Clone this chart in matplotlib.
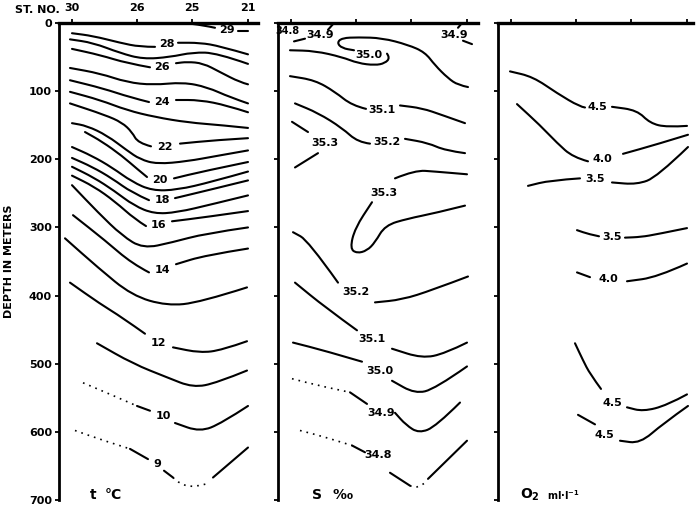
import matplotlib
matplotlib.use("Agg")
import matplotlib.pyplot as plt
from matplotlib.path import Path
from matplotlib.patches import PathPatch

# station positions along the section (distance units), depth in metres
stations = ["30", "26", "25", "21"]
station_x = [0, 65, 120, 176]
depth_ticks = [0, 100, 200, 300, 400, 500, 600, 700]

# each isoline: (label, label position, [(style, [(x, depth), ...]), ...])
temperature = [
    ("29", (155, 11), [("-", [(112, 0), (130, 3), (143, 7)]),
                       ("-", [(166, 12), (176, 12)])]),
    ("28", (95, 31), [("-", [(0, 15), (21, 19), (48, 29), (68, 35), (83, 35)]),
                      ("-", [(106, 29), (128, 29), (148, 34), (176, 46)])]),
    (None, None, [("-", [(-2, 24), (21, 29), (48, 44), (71, 53), (98, 50), (121, 43), (145, 44), (176, 60)])]),
    ("26", (90, 65), [("-", [(0, 38), (28, 47), (55, 59), (78, 65)]),
                      ("-", [(104, 59), (115, 57), (131, 59), (148, 72), (168, 87), (176, 90)])]),
    (None, None, [("-", [(-2, 66), (28, 74), (55, 87), (81, 91), (111, 87), (135, 94), (158, 109), (176, 118)])]),
    ("24", (90, 116), [("-", [(-2, 84), (31, 96), (58, 109), (77, 116)]),
                       ("-", [(104, 113), (128, 113), (155, 121), (176, 131)])]),
    (None, None, [("-", [(-2, 101), (28, 113), (55, 128), (83, 138), (116, 146), (150, 150), (176, 154)])]),
    ("22", (93, 182), [("-", [(-2, 118), (33, 135), (50, 146), (60, 160), (66, 176), (79, 181)]),
                       ("-", [(108, 177), (143, 172), (176, 169)])]),
    (None, None, [("-", [(0, 147), (15, 151), (35, 165), (55, 187), (68, 200), (85, 207), (115, 203), (145, 195), (176, 187)])]),
    ("20", (88, 231), [("-", [(13, 160), (30, 174), (50, 195), (65, 214), (75, 226)]),
                       ("-", [(102, 228), (130, 218), (176, 204)])]),
    (None, None, [("-", [(0, 182), (20, 195), (40, 212), (60, 233), (80, 246), (105, 245), (140, 233), (176, 218)])]),
    ("18", (90, 260), [("-", [(0, 198), (20, 211), (40, 228), (60, 249), (77, 260)]),
                       ("-", [(103, 257), (140, 244), (176, 231)])]),
    (None, None, [("-", [(0, 211), (22, 227), (42, 246), (62, 268), (82, 280), (105, 278), (140, 266), (176, 253)])]),
    ("16", (86, 297), [("-", [(0, 224), (22, 240), (43, 262), (63, 288), (74, 298)]),
                       ("-", [(100, 291), (133, 285), (176, 276)])]),
    (None, None, [("-", [(0, 238), (26, 278), (50, 312), (71, 331), (100, 322), (133, 309), (176, 300)])]),
    ("14", (90, 363), [("-", [(1, 282), (33, 319), (60, 353), (77, 366)]),
                       ("-", [(104, 354), (133, 341), (176, 331)])]),
    (None, None, [("-", [(-7, 316), (26, 359), (60, 400), (95, 415), (128, 410), (175, 388)])]),
    ("12", (86, 469), [("-", [(-2, 381), (28, 412), (50, 432), (73, 456)]),
                       ("-", [(101, 476), (128, 484), (150, 480), (175, 467)])]),
    (None, None, [("-", [(25, 470), (61, 500), (95, 520), (121, 535), (145, 528), (175, 510)])]),
    ("10", (91, 576), [(":", [(11, 528), (40, 546), (65, 562)]),
                       ("-", [(65, 562), (78, 569)]),
                       ("-", [(103, 587), (128, 600), (150, 587), (176, 562)])]),
    ("9", (85, 647), [(":", [(3, 598), (30, 612), (58, 625)]),
                      ("-", [(58, 625), (76, 640)]),
                      ("-", [(92, 657), (101, 667)]),
                      (":", [(101, 667), (108, 676), (121, 682), (138, 675)]),
                      ("-", [(141, 667), (176, 623)])]),
]

salinity = [
    ("34.8", (-4, 12), []),
    ("34.9", (29, 17), [("-", [(3, 27), (14, 23)]),
                        ("-", [(37, 10), (43, 0)])]),
    ("34.9", (163, 17), [("-", [(167, 7), (171, 0)]),
                         ("-", [(172, 26), (181, 31)])]),
    ("35.0", (78, 47), [("-", [(-1, 40), (24, 41), (51, 50), (67, 59), (84, 62), (94, 59), (99, 51), (96, 45)]),
                        ("-", [(63, 40), (51, 37), (46, 29), (51, 22), (67, 21), (91, 22), (117, 32),
                               (134, 43), (144, 62), (157, 81), (167, 91), (177, 94)])]),
    ("35.1", (91, 128), [("-", [(-1, 78), (24, 84), (44, 101), (61, 121), (75, 126)]),
                         ("-", [(109, 121), (131, 125), (151, 135), (174, 147)])]),
    ("35.2", (96, 175), [("-", [(4, 118), (27, 132), (51, 154), (67, 175), (79, 177)]),
                         ("-", [(114, 170), (137, 176), (154, 187), (174, 191)])]),
    ("35.3", (34, 176), [("-", [(1, 145), (17, 160)]),
                         ("-", [(27, 191), (4, 212)])]),
    ("35.3", (93, 250), [("-", [(176, 222), (144, 218), (124, 216), (104, 228)]),
                         ("-", [(81, 263), (64, 301), (59, 331), (66, 338), (76, 334), (84, 322),
                                (94, 297), (117, 287), (144, 279), (174, 268)])]),
    ("35.2", (65, 395), [("-", [(2, 307), (17, 319), (47, 381)]),
                         ("-", [(84, 410), (111, 406), (141, 392), (177, 372)])]),
    ("35.1", (81, 463), [("-", [(4, 381), (34, 417), (66, 451)]),
                         ("-", [(101, 478), (131, 492), (154, 485), (176, 469)])]),
    ("35.0", (89, 510), [("-", [(2, 469), (34, 481), (71, 497)]),
                         ("-", [(101, 525), (124, 544), (144, 537), (176, 504)])]),
    ("34.9", (90, 572), [(":", [(1, 522), (30, 533), (59, 542)]),
                         ("-", [(59, 542), (76, 559)]),
                         ("-", [(104, 572), (115, 590), (128, 602), (145, 592), (169, 557)])]),
    ("34.8", (87, 634), [(":", [(9, 598), (35, 608), (61, 620)]),
                         ("-", [(61, 620), (74, 630)]),
                         ("-", [(99, 660), (119, 679)]),
                         (":", [(119, 679), (126, 683), (136, 673)]),
                         ("-", [(137, 669), (176, 613)])]),
]

oxygen = [
    ("4.5", (86, 124), [("-", [(-1, 71), (22, 79), (46, 103), (69, 123), (74, 124)]),
                        ("-", [(101, 123), (126, 128), (139, 147), (156, 153), (176, 151)])]),
    ("4.0", (91, 199), [("-", [(6, 119), (29, 150), (46, 176), (62, 197), (77, 203)]),
                        ("-", [(112, 192), (146, 178), (177, 164)])]),
    ("3.5", (84, 229), [("-", [(17, 239), (39, 231), (69, 228)]),
                        ("-", [(101, 234), (126, 237), (146, 226), (177, 182)])]),
    ("3.5", (101, 314), [("-", [(66, 304), (78, 310), (88, 313)]),
                         ("-", [(114, 315), (130, 314), (146, 310), (176, 301)])]),
    ("4.0", (97, 375), [("-", [(66, 366), (79, 373)]),
                        ("-", [(116, 379), (146, 373), (176, 353)])]),
    ("4.5", (101, 558), [("-", [(64, 470), (72, 495), (79, 515), (90, 537)]),
                         ("-", [(116, 564), (132, 570), (156, 561), (176, 545)])]),
    ("4.5", (93, 605), [("-", [(67, 575), (84, 589)]),
                        ("-", [(109, 613), (129, 617), (152, 588), (177, 562)])]),
]

units = [
    [("t", 21, 10), ("°C", 41, 10)],
    [("S", 26, 10), ("‰", 52, 10)],
    [("O$_2$", 19, 10), ("ml·l$^{-1}$", 52, 7)],
]

plt.rcParams["font.family"] = ["DejaVu Sans"]
plt.rcParams["mathtext.default"] = "bf"


def smooth_path(pts):
    # quadratic curves through the midpoints, the read points act as controls
    if len(pts) < 3:
        return Path(pts)
    verts = [pts[0], ((pts[0][0] + pts[1][0]) / 2, (pts[0][1] + pts[1][1]) / 2)]
    codes = [Path.MOVETO, Path.LINETO]
    for k in range(1, len(pts) - 1):
        nxt = pts[k + 1]
        mid = ((pts[k][0] + nxt[0]) / 2, (pts[k][1] + nxt[1]) / 2)
        end = nxt if k == len(pts) - 2 else mid
        verts += [pts[k], end]
        codes += [Path.CURVE3, Path.CURVE3]
    if len(pts) > 3:
        pass
    return Path(verts, codes)


fig = plt.figure(figsize=(7, 5.13), dpi=100)

panels = [(59, 258), (278, 478), (498, 693)]
data = [temperature, salinity, oxygen]

for i, ((left, right), lines) in enumerate(zip(panels, data)):
    ax = fig.add_axes([left / 700, 1 - 500 / 513, (right - left) / 700, 477 / 513])
    ax.set_xlim(-13, -13 + (right - left))
    ax.set_ylim(700, 0)
    ax.spines["right"].set_visible(False)
    ax.spines["bottom"].set_visible(False)
    ax.spines["top"].set_linewidth(2.4)
    ax.spines["left"].set_linewidth(2.0)
    ax.xaxis.tick_top()
    ax.set_xticks(station_x)
    ax.set_yticks(depth_ticks)
    ax.tick_params(axis="x", direction="out", length=3, width=1.3, pad=4)
    ax.tick_params(axis="y", direction="out", length=3, width=1.3, pad=2)
    if i == 0:
        ax.set_xticklabels(stations, fontsize=8, fontweight="bold")
        ax.set_yticklabels([str(d) for d in depth_ticks], fontsize=8, fontweight="bold")
    else:
        ax.set_xticklabels([])
        ax.set_yticklabels([])

    for label, pos, segs in lines:
        for style, pts in segs:
            if style == ":":
                patch = PathPatch(smooth_path(pts), fill=False, edgecolor="black",
                                  lw=1.2, linestyle=(0, (1, 3)))
            else:
                patch = PathPatch(smooth_path(pts), fill=False, edgecolor="black",
                                  lw=1.5, capstyle="round", joinstyle="round")
            ax.add_patch(patch)
        if label:
            size = 7 if pos[0] < 0 else 8
            ax.text(pos[0], pos[1], label, ha="center", va="center",
                    fontsize=size, fontweight="bold")

    for text, x, size in units[i]:
        ax.text(x, 693, text, ha="center", va="center", fontsize=size, fontweight="bold")

fig.text(37 / 700, 1 - 10 / 513, "ST. NO.", ha="center", va="center",
         fontsize=8, fontweight="bold")
fig.text(9 / 700, 1 - 261 / 513, "DEPTH IN METERS", ha="center", va="center",
         rotation=90, fontsize=8, fontweight="bold")

fig.savefig("out.png", dpi=100)
